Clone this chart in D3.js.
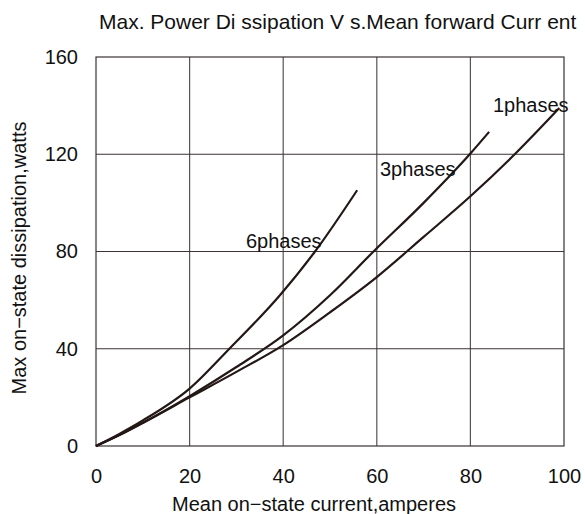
<!DOCTYPE html>
<html><head><meta charset="utf-8">
<script src="https://cdn.jsdelivr.net/npm/d3@7"></script>
<style>body{margin:0;background:#fff}svg{display:block}text{font-family:"Liberation Sans",Arial,sans-serif;fill:#111}</style>
</head><body>
<svg id="c" width="585" height="514"></svg>
<script>
const xTicks = [0, 20, 40, 60, 80, 100];
const yTicks = [0, 40, 80, 120, 160];
const phase1 = [[0,0],[5,4.5],[10,9.5],[20,20],[30,30.5],[40,41.5],[50,55],[60,69.5],[70,86],[80,102.7],[90,121],[99,139]];
const phase3 = [[0,0],[5,4.5],[10,9.5],[20,20.5],[30,32.5],[40,45.5],[50,62],[59.3,80],[70,100],[80,120.3],[84,129.2]];
const phase6 = [[0,0],[5,5],[10,10.5],[20,23.6],[28.5,40],[39.3,62],[46.8,80],[55.8,105.2]];
const series = [
  {name:"1phases", data: phase1, label:[493,112]},
  {name:"3phases", data: phase3, label:[380,176]},
  {name:"6phases", data: phase6, label:[246,248]}
];
const title = "Max. Power Di ssipation V s.Mean forward Curr ent";

const svg = d3.select("#c");
const m = {l:96, r:564, t:57, b:446};
const x = d3.scaleLinear().domain([0,100]).range([m.l, m.r]);
const y = d3.scaleLinear().domain([0,160]).range([m.b, m.t]);

// grid
svg.append("g").selectAll("line").data(xTicks.slice(1,-1)).join("line")
  .attr("x1", d=>x(d)).attr("x2", d=>x(d)).attr("y1", m.t).attr("y2", m.b)
  .attr("stroke","#5a5254").attr("stroke-width",1.2);
svg.append("g").selectAll("line").data(yTicks.slice(1,-1)).join("line")
  .attr("y1", d=>y(d)).attr("y2", d=>y(d)).attr("x1", m.l).attr("x2", m.r)
  .attr("stroke","#3a3234").attr("stroke-width",1.2);
// frame
svg.append("rect").attr("x",m.l).attr("y",m.t).attr("width",m.r-m.l).attr("height",m.b-m.t)
  .attr("fill","none").attr("stroke","#3a3234").attr("stroke-width",1.2);

// axes labels
const xa = d3.axisBottom(x).tickValues(xTicks).tickSize(0).tickPadding(23);
const gx = svg.append("g").attr("transform",`translate(0,${m.b})`).call(xa);
gx.select(".domain").remove();
gx.selectAll("text").style("font-size","20px").attr("fill","#111");
const ya = d3.axisLeft(y).tickValues(yTicks).tickSize(0).tickPadding(18);
const gy = svg.append("g").attr("transform",`translate(${m.l},0)`).call(ya);
gy.select(".domain").remove();
gy.selectAll("text").style("font-size","20px").attr("fill","#111");

// curves
const line = d3.line().x(d=>x(d[0])).y(d=>y(d[1])).curve(d3.curveMonotoneX);
svg.append("g").selectAll("path").data(series).join("path")
  .attr("d", d=>line(d.data)).attr("fill","none").attr("stroke","#231815").attr("stroke-width",2.2);

svg.append("g").selectAll("text").data(series).join("text")
  .attr("x", d=>d.label[0]).attr("y", d=>d.label[1]).text(d=>d.name).style("font-size","20px");

svg.append("text").attr("x",99).attr("y",29).style("font-size","21px").text(title);
svg.append("text").attr("x",314).attr("y",511).attr("text-anchor","middle").style("font-size","20px").text("Mean on−state current,amperes");
svg.append("text").attr("transform","translate(26,258) rotate(-90)").attr("text-anchor","middle").style("font-size","20px").text("Max on−state dissipation,watts");
</script>
</body></html>
